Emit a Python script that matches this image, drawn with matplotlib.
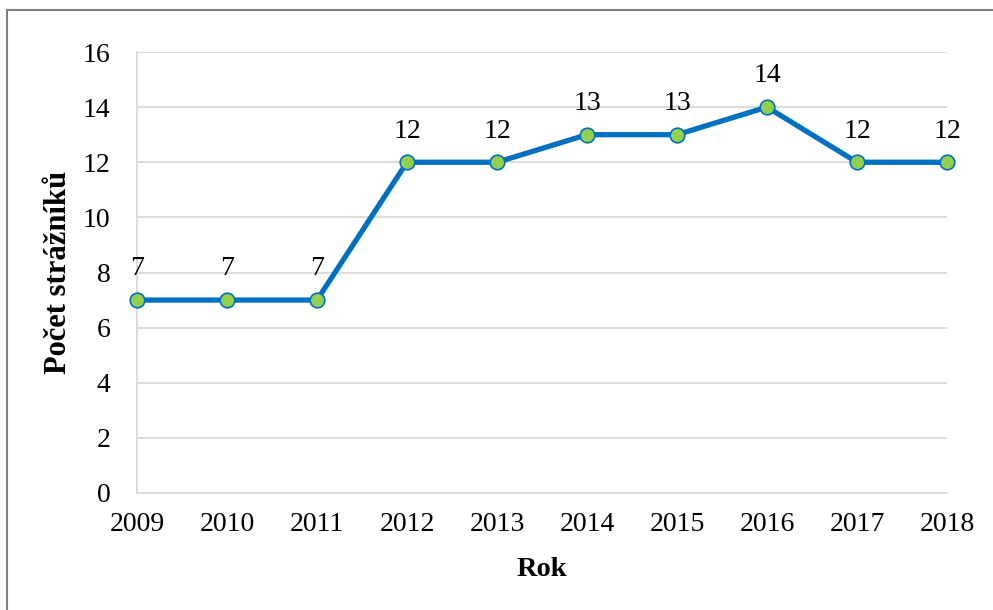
import matplotlib.pyplot as plt
from matplotlib.lines import Line2D

# Data
years = ['2009', '2010', '2011', '2012', '2013', '2014', '2015', '2016', '2017', '2018']
guards = [7, 7, 7, 12, 12, 13, 13, 14, 12, 12]

plt.rcParams['font.family'] = ['Liberation Serif', 'DejaVu Serif']

fig = plt.figure(figsize=(9.93, 6.10), dpi=100)
ax = fig.add_axes([137 / 993, 1 - 493 / 610, (947 - 137) / 993, (493 - 52) / 610])

x = list(range(len(years)))
ax.plot(x, guards, color='#0070C0', linewidth=3.8, marker='o', markersize=10.5,
        markerfacecolor='#92D050', markeredgecolor='#0070C0', markeredgewidth=1.2,
        zorder=3, clip_on=False)

for xi, v in zip(x, guards):
    ax.annotate(str(v), (xi, v), xytext=(0, 22.5), textcoords='offset points',
                ha='center', va='center', fontsize=20)

ax.set_xlim(0, len(years) - 1)
ax.set_ylim(0, 16)
ax.set_yticks(range(0, 17, 2))
ax.set_xticks(x)
ax.set_xticklabels(years)

ax.grid(axis='y', color='#D9D9D9', linewidth=1.3)
ax.set_axisbelow(True)
for side in ['top', 'right']:
    ax.spines[side].set_visible(False)
for side in ['left', 'bottom']:
    ax.spines[side].set_color('#D9D9D9')
    ax.spines[side].set_linewidth(1.3)

ax.tick_params(axis='both', length=0, labelsize=20)
ax.tick_params(axis='y', pad=19)
ax.tick_params(axis='x', pad=14)

ax.set_xlabel('Rok', fontsize=20.5, fontweight='bold', labelpad=14)
ax.set_ylabel('Počet strážníků', fontsize=22, fontweight='bold', labelpad=7)

# chart frame (only left and top edges visible in the crop)
fig.add_artist(Line2D([7 / 993, 7 / 993], [0, 1 - 10 / 610], transform=fig.transFigure,
                      color='#808080', linewidth=1.5))
fig.add_artist(Line2D([7 / 993, 1], [1 - 10 / 610, 1 - 10 / 610], transform=fig.transFigure,
                      color='#808080', linewidth=1.5))

fig.savefig('out.png', dpi=100)
